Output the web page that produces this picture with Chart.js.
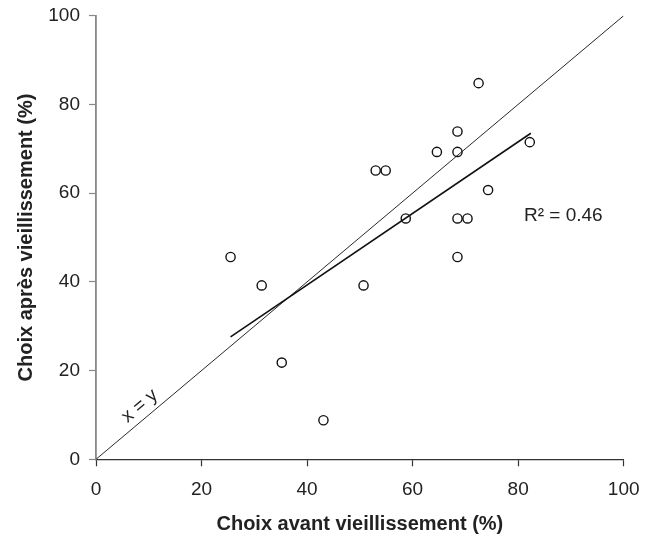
<!DOCTYPE html>
<html>
<head>
<meta charset="utf-8">
<script src="https://cdn.jsdelivr.net/npm/chart.js@4/dist/chart.umd.min.js"></script>
<style>
  html, body { margin: 0; padding: 0; background: #fff; }
  #wrap { width: 653px; height: 538px; position: relative; }
</style>
</head>
<body>
<div id="wrap"><canvas id="c"></canvas></div>
<script>
// Data
const choixAvant = [25.5, 31.4, 35.2, 43.1, 50.7, 53.0, 54.9, 58.7, 64.6, 68.5, 68.5, 68.5, 70.4, 68.5, 72.5, 74.3, 82.2];
const choixApres = [45.6, 39.2, 21.8, 8.8, 39.2, 65.1, 65.1, 54.3, 69.3, 73.9, 69.3, 54.3, 54.3, 45.6, 84.8, 60.7, 71.5];
const identiteX = [0, 100];
const identiteY = [0, 100];
const tendanceX = [25.5, 82.4];
const tendanceY = [27.6, 73.5];
const xTicks = [0, 20, 40, 60, 80, 100];
const yTicks = [0, 20, 40, 60, 80, 100];
const r2Label = 'R² = 0.46';
const diagLabel = 'x = y';

const toPts = (xs, ys) => xs.map((x, i) => ({ x: x, y: ys[i] }));

const FONT = '"Liberation Sans", Arial, sans-serif';

const textPlugin = {
  id: 'annotTexts',
  afterDatasetsDraw(chart) {
    const { ctx, scales: { x, y } } = chart;
    ctx.save();
    ctx.fillStyle = '#222';
    ctx.font = '19px ' + FONT;
    ctx.textAlign = 'left';
    ctx.textBaseline = 'middle';
    ctx.fillText(r2Label, x.getPixelForValue(81.1), y.getPixelForValue(54.8));
    // x = y label, rotated along the diagonal
    const x0 = x.getPixelForValue(0), y0 = y.getPixelForValue(0);
    const x1 = x.getPixelForValue(100), y1 = y.getPixelForValue(100);
    const ang = Math.atan2(y1 - y0, x1 - x0);
    ctx.translate(x.getPixelForValue(8.3), y.getPixelForValue(12.0));
    ctx.rotate(ang);
    ctx.textAlign = 'center';
    ctx.fillText(diagLabel, 0, 0);
    ctx.restore();
  }
};

new Chart(document.getElementById('c'), {
  type: 'scatter',
  data: {
    datasets: [
      {
        label: 'Produits',
        data: toPts(choixAvant, choixApres),
        pointStyle: 'circle',
        pointRadius: 4.6,
        pointBorderWidth: 1.4,
        pointBorderColor: '#111',
        pointBackgroundColor: 'rgba(255,255,255,0)',
        showLine: false,
        order: 1
      },
      {
        label: 'x = y',
        data: toPts(identiteX, identiteY),
        showLine: true,
        borderColor: '#111',
        borderWidth: 0.9,
        pointRadius: 0,
        fill: false,
        order: 2
      },
      {
        label: 'Tendance',
        data: toPts(tendanceX, tendanceY),
        showLine: true,
        borderColor: '#111',
        borderWidth: 1.6,
        pointRadius: 0,
        fill: false,
        order: 2
      }
    ]
  },
  options: {
    responsive: true,
    maintainAspectRatio: false,
    animation: false,
    devicePixelRatio: 1,
    layout: { padding: { top: 15.7, right: 29.3, left: 0, bottom: 0 } },
    plugins: {
      legend: { display: false },
      tooltip: { enabled: false }
    },
    scales: {
      x: {
        type: 'linear',
        min: 0, max: 100,
        afterBuildTicks: (s) => { s.ticks = xTicks.map(v => ({ value: v })); },
        afterFit: (s) => { s.height = 78.7; s.paddingLeft = 0; s.paddingRight = 0; },
        grid: { drawOnChartArea: false, drawTicks: true, tickLength: 7, tickColor: '#333', tickWidth: 1.2 },
        border: { display: true, color: '#333', width: 1.2 },
        ticks: { color: '#222', font: { family: FONT, size: 19 }, padding: 12, maxRotation: 0, autoSkip: false },
        title: {
          display: true,
          text: 'Choix avant vieillissement (%)',
          color: '#222',
          font: { family: FONT, size: 20, weight: 'bold' },
          padding: { top: 0, bottom: 2 }
        }
      },
      y: {
        type: 'linear',
        min: 0, max: 100,
        afterBuildTicks: (s) => { s.ticks = yTicks.map(v => ({ value: v })); },
        afterFit: (s) => { s.width = 96; s.paddingTop = 0; s.paddingBottom = 0; },
        grid: { drawOnChartArea: false, drawTicks: true, tickLength: 7, tickColor: '#888', tickWidth: 1.2 },
        border: { display: true, color: '#888', width: 1.8 },
        ticks: { color: '#222', font: { family: FONT, size: 19 }, padding: 9, autoSkip: false },
        title: {
          display: true,
          text: 'Choix après vieillissement (%)',
          color: '#222',
          font: { family: FONT, size: 20, weight: 'bold' },
          padding: { top: 14, bottom: 0 }
        }
      }
    }
  },
  plugins: [textPlugin]
});
</script>
</body>
</html>
